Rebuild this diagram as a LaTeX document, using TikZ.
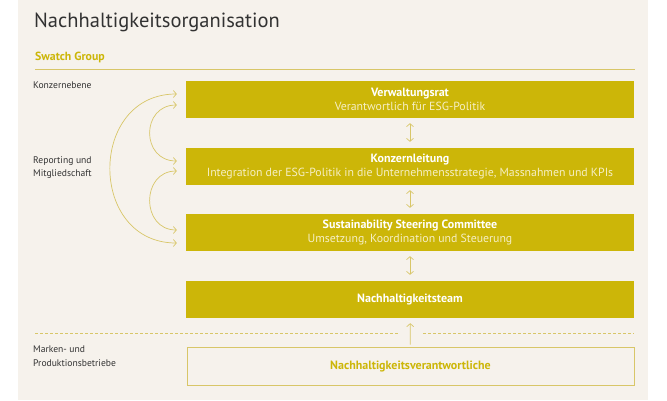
\documentclass[tikz,border=0pt]{standalone}
\usepackage{fontspec}
\setmainfont{PT Sans}
\usetikzlibrary{arrows.meta}

\definecolor{swgold}{RGB}{204,182,8}
\definecolor{swline}{RGB}{216,198,104}
\definecolor{swbg}{RGB}{246,242,236}
\definecolor{swtext}{RGB}{50,50,50}
\definecolor{swsub}{RGB}{246,239,196}

\newcommand{\subline}[1]{{\mdseries\fontsize{11.8}{14}\selectfont\color{swsub}#1}}

\begin{document}
\begin{tikzpicture}[x=1pt, y=-1pt, >={Straight Barb[length=3pt,width=7pt]},
    level/.style={fill=swgold, minimum width=448pt, minimum height=37pt, inner sep=0pt,
        align=center, text=white, font=\bfseries\fontsize{12}{14}\selectfont},
    sidelabel/.style={anchor=north west, align=left, text=swtext, inner sep=0pt,
        font=\fontsize{9.6}{13.5}\selectfont},
    link/.style={draw=swline, line width=0.7pt}]
    \useasboundingbox (0,0) rectangle (667,400);
    \fill[swbg] (18,0) rectangle (648,400);

    % header
    \node[anchor=west, inner sep=0pt, text=swtext, font=\fontsize{20.5}{24}\selectfont] (title) at (34,22) {Nachhaltigkeitsorganisation};
    \node[anchor=west, inner sep=0pt, text=swgold, font=\bfseries\fontsize{11.8}{14}\selectfont] (group) at (35,57) {Swatch Group};
    \draw[swline, line width=0.9pt] (35,69) -- (635,69);

    % side labels
    \node[sidelabel] (ebene) at (33,82) {Konzernebene};
    \node[sidelabel] (reporting) at (33,156) {Reporting und\\Mitgliedschaft};
    \node[sidelabel] (marken) at (33,346) {Marken- und\\Produktionsbetriebe};

    % levels
    \node[level] (vr) at (410,99.5) {Verwaltungsrat\\\subline{Verantwortlich für ESG-Politik}};
    \node[level] (kl) at (410,166.5) {Konzernleitung\\\subline{Integration der ESG-Politik in die Unternehmensstrategie, Massnahmen und KPIs}};
    \node[level] (ssc) at (410,232.5) {Sustainability Steering Committee\\\subline{Umsetzung, Koordination und Steuerung}};
    \node[level] (team) at (410,299.5) {Nachhaltigkeitsteam};
    \node[level, fill=none, draw=swline, line width=0.8pt, minimum width=447pt, minimum height=38pt,
        text=swgold] (resp) at (410.5,366) {Nachhaltigkeitsverantwortliche};

    % vertical links
    \draw[link, <->, shorten <=5pt, shorten >=6pt] (vr) -- (kl);
    \draw[link, <->, shorten <=5pt, shorten >=6pt] (kl) -- (ssc);
    \draw[link, <->, shorten <=5pt, shorten >=6pt] (ssc) -- (team);
    \draw[link, ->, shorten <=2pt, shorten >=5pt] (resp) -- (team);

    % reporting arcs
    \draw[link, <->] ([xshift=-9pt,yshift=5.5pt]vr.west) .. controls +(-89,0) and +(-89,0) .. ([xshift=-9pt,yshift=-10.5pt]ssc.west);
    \draw[link, <->] ([xshift=-9pt,yshift=-5.5pt]vr.west) .. controls +(-36,0) and +(-36,0) .. ([xshift=-9pt,yshift=5.5pt]kl.west);
    \draw[link, <->] ([xshift=-9pt,yshift=-4.5pt]kl.west) .. controls +(-36,0) and +(-36,0) .. ([xshift=-9pt,yshift=2.5pt]ssc.west);

    % boundary
    \draw[swline, line width=0.7pt, dash pattern=on 3pt off 2pt] (35,333) -- (398,333);
    \draw[swline, line width=0.7pt, dash pattern=on 3pt off 2pt] (423,333) -- (634,333);
\end{tikzpicture}
\end{document}
